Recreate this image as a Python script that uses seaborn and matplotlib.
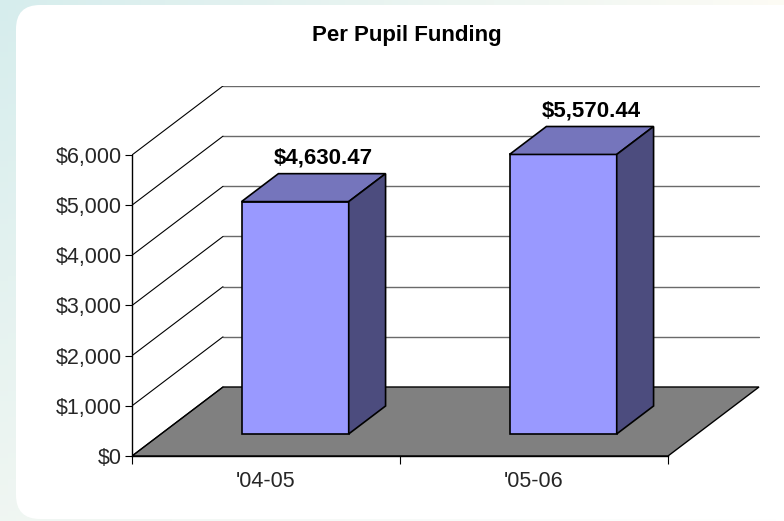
import numpy as np
import pandas as pd
import matplotlib
matplotlib.use("Agg")
import matplotlib.pyplot as plt
import seaborn as sns
from matplotlib.patches import Polygon, FancyBboxPatch
from matplotlib.ticker import FuncFormatter, FixedLocator

# ---------------- data ----------------
title = "Per Pupil Funding"
categories = ["'04-05", "'05-06"]
values = [4630.47, 5570.44]
value_labels = ["$4,630.47", "$5,570.44"]
y_ticks = [0, 1000, 2000, 3000, 4000, 5000, 6000]

# ---------------- style ----------------
sns.set_theme(style="white")
plt.rcParams["font.family"] = ["Liberation Sans", "DejaVu Sans"]

W, H = 784, 521
fig = plt.figure(figsize=(W / 100, H / 100), dpi=100)

# background gradient + white rounded panel
bg = fig.add_axes([0, 0, 1, 1], zorder=-10)
yy, xx = np.mgrid[0:1:100j, 0:1:100j]
tl = np.array([0.84, 0.93, 0.93]); tr = np.array([0.99, 0.985, 0.96])
bl = np.array([0.94, 0.965, 0.95]); br = np.array([1.0, 1.0, 1.0])
img = ((1 - xx)[..., None] * (1 - yy)[..., None] * tl + xx[..., None] * (1 - yy)[..., None] * tr
       + (1 - xx)[..., None] * yy[..., None] * bl + xx[..., None] * yy[..., None] * br)
bg.imshow(img, extent=[0, W, H, 0], aspect="auto")
bg.set_xlim(0, W); bg.set_ylim(H, 0); bg.axis("off")
bg.add_patch(FancyBboxPatch((16, 5), 800, 514, boxstyle="round,pad=0,rounding_size=24",
                            facecolor="white", edgecolor="none"))

# main axes: front plane in data coords
ax = fig.add_axes([132 / W, (H - 456) / H, 628 / W, 370 / H])
ax.patch.set_alpha(0)

px_per_cat = 268.0
px_per_dollar = 50.17 / 1000.0
DX = 91 / px_per_cat          # depth offset in category units
DY = 69 / px_per_dollar       # depth offset in dollars
f0, f1 = 0.32, 0.725          # bar depth range (fraction of full depth)
bw = 0.4

df = pd.DataFrame({"Year": categories, "Funding": values})
sns.barplot(data=df, x="Year", y="Funding", ax=ax, width=bw, color="#9999FF",
            saturation=1, edgecolor="black", linewidth=1.2)

top_col, side_col = "#7575BC", "#4C4C7E"

# floor
ax.add_patch(Polygon([(-0.5, 0), (1.5, 0), (1.5 + DX, DY), (-0.5 + DX, DY)], closed=True,
                     facecolor="#808080", edgecolor="black", linewidth=1.0, zorder=1))
# back wall gridlines and side wall diagonals
for v in y_ticks:
    if v > 0:
        ax.plot([-0.5 + DX, 1.5 + DX], [v + DY, v + DY], color="#6a6a6a", lw=1.0, zorder=1.5)
    ax.plot([-0.5, -0.5 + DX], [v, v + DY], color="black", lw=0.8, zorder=1.5)

# shift bars back and add top / side faces
d = f1 - f0
for i, (p, v) in enumerate(zip(ax.patches[:len(values)], values)):
    x0 = p.get_x() + f0 * DX
    y0 = f0 * DY
    p.set_x(x0); p.set_y(y0); p.set_zorder(3)
    w = p.get_width()
    ax.add_patch(Polygon([(x0, v + y0), (x0 + w, v + y0), (x0 + w + d * DX, v + y0 + d * DY),
                          (x0 + d * DX, v + y0 + d * DY)], closed=True, facecolor=top_col,
                         edgecolor="black", linewidth=1.2, zorder=3))
    ax.add_patch(Polygon([(x0 + w, y0), (x0 + w + d * DX, y0 + d * DY),
                          (x0 + w + d * DX, v + y0 + d * DY), (x0 + w, v + y0)], closed=True,
                         facecolor=side_col, edgecolor="black", linewidth=1.2, zorder=3))
    ax.text(i + 0.63 * DX, v + f1 * DY + 100, value_labels[i], ha="center", va="bottom",
            fontsize=16, fontweight="bold", color="black", zorder=5)

ax.set_xlim(-0.5, -0.5 + 628 / px_per_cat)
ax.set_ylim(0, 370 / px_per_dollar)

# axes styling
for s in ["top", "right"]:
    ax.spines[s].set_visible(False)
for s in ["left", "bottom"]:
    ax.spines[s].set_color("black"); ax.spines[s].set_linewidth(1.0); ax.spines[s].set_zorder(4)
ax.spines["left"].set_bounds(0, 6000)
ax.spines["bottom"].set_bounds(-0.5, 1.5)

ax.yaxis.set_major_locator(FixedLocator(y_ticks))
ax.yaxis.set_major_formatter(FuncFormatter(lambda v, _: f"${v:,.0f}"))
ax.tick_params(axis="y", which="major", direction="out", length=5, width=0.8, color="black",
               labelsize=15.5, pad=2, left=True)
ax.xaxis.set_minor_locator(FixedLocator([-0.5, 0.5, 1.5]))
ax.tick_params(axis="x", which="major", length=0, labelsize=15.5, pad=11)
ax.tick_params(axis="x", which="minor", direction="out", length=6, width=0.8, color="black",
               bottom=True)
ax.set_xlabel(""); ax.set_ylabel("")
ax.grid(False)

fig.text(407 / W, 1 - 36 / H, title, ha="center", va="center", fontsize=16,
         fontweight="bold", color="black")

fig.savefig("out.png", dpi=100)
